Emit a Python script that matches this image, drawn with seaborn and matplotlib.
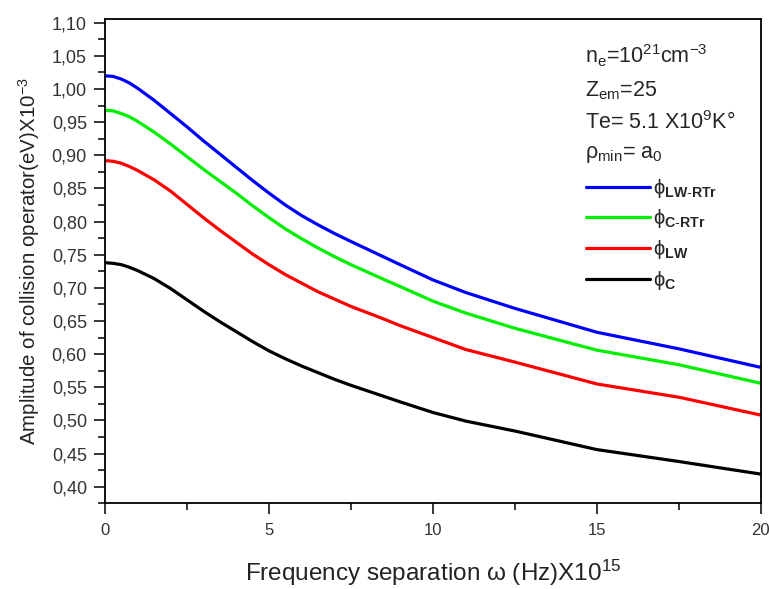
import numpy as np
import pandas as pd
import matplotlib
matplotlib.use('Agg')
import matplotlib.pyplot as plt
import seaborn as sns
from matplotlib.ticker import MultipleLocator, FuncFormatter

# ---- data ----
freq = [0, 0.25, 0.5, 0.75, 1, 1.5, 2, 2.5, 3, 3.5, 4, 4.5, 5, 5.5, 6, 6.5, 7, 7.5,
        8.4, 9, 10, 11, 12.5, 15, 17.5, 20]
phi_lw_rtr = [1.020, 1.019, 1.015, 1.009, 1.001, 0.983, 0.963, 0.943, 0.922, 0.902,
              0.882, 0.862, 0.843, 0.825, 0.809, 0.795, 0.782, 0.770, 0.749, 0.735,
              0.712, 0.693, 0.669, 0.633, 0.608, 0.580]
phi_c_rtr = [0.968, 0.967, 0.963, 0.958, 0.951, 0.935, 0.917, 0.898, 0.879, 0.861,
             0.843, 0.824, 0.806, 0.789, 0.774, 0.760, 0.747, 0.735, 0.715, 0.702,
             0.680, 0.662, 0.639, 0.606, 0.584, 0.556]
phi_lw = [0.892, 0.891, 0.888, 0.883, 0.877, 0.863, 0.846, 0.826, 0.806, 0.787,
          0.769, 0.751, 0.735, 0.720, 0.707, 0.694, 0.683, 0.672, 0.655, 0.643,
          0.625, 0.607, 0.588, 0.555, 0.535, 0.508]
phi_c = [0.738, 0.737, 0.735, 0.731, 0.726, 0.714, 0.699, 0.682, 0.665, 0.649,
         0.634, 0.619, 0.605, 0.593, 0.582, 0.572, 0.562, 0.553, 0.538, 0.528,
         0.512, 0.499, 0.484, 0.456, 0.438, 0.419]

series_names = ['LW-RTr', 'C-RTr', 'LW', 'C']
series_labels = [r'$\mathrm{\phi}_{\mathbf{LW\text{-}RTr}}$',
                 r'$\mathrm{\phi}_{\mathbf{C\text{-}RTr}}$',
                 r'$\mathrm{\phi}_{\mathbf{LW}}$',
                 r'$\mathrm{\phi}_{\mathbf{C}}$']
series_colors = ['#0000ff', '#00ee00', '#ff0000', '#000000']

frames = []
for name, vals in zip(series_names, [phi_lw_rtr, phi_c_rtr, phi_lw, phi_c]):
    frames.append(pd.DataFrame({'freq': freq, 'amp': vals, 'series': name}))
df = pd.concat(frames, ignore_index=True)

sns.set_style('ticks')
plt.rcParams['font.family'] = ['Liberation Sans', 'DejaVu Sans']
plt.rcParams['mathtext.fontset'] = 'custom'
plt.rcParams['mathtext.rm'] = 'Liberation Sans'
plt.rcParams['mathtext.it'] = 'Liberation Sans:italic'
plt.rcParams['mathtext.bf'] = 'Liberation Sans:bold'
plt.rcParams['mathtext.sf'] = 'Liberation Sans'

fig = plt.figure(figsize=(7.69, 5.89), dpi=100)
ax = fig.add_axes([0.1365, 0.1452, 0.853, 0.8218])

sns.lineplot(data=df, x='freq', y='amp', hue='series', hue_order=series_names,
             palette=dict(zip(series_names, series_colors)), sort=False,
             linewidth=2.3, legend=False, ax=ax)

ax.set_xlim(0, 20)
ax.set_ylim(0.3747, 1.105)
ax.xaxis.set_major_locator(MultipleLocator(5))
ax.xaxis.set_minor_locator(MultipleLocator(2.5))
ax.yaxis.set_major_locator(MultipleLocator(0.05))
ax.yaxis.set_minor_locator(MultipleLocator(0.025))
ax.yaxis.set_major_formatter(FuncFormatter(lambda v, p: f'{v:.2f}'.replace('.', ',')))
ax.xaxis.set_major_formatter(FuncFormatter(lambda v, p: f'{v:g}'))

ax.tick_params(which='major', direction='out', length=8, width=1.3,
               labelcolor='#333333', pad=5)
ax.tick_params(axis='y', which='major', labelsize=13)
ax.tick_params(axis='x', which='major', labelsize=12, pad=6)
ax.tick_params(which='minor', direction='out', length=5, width=1.3)
for s in ax.spines.values():
    s.set_visible(True)
    s.set_linewidth(1.3)
    s.set_color('black')

ax.set_ylabel(r'Amplitude of collision operator(eV)X10$^{-3}$', fontsize=14.8,
              color='#222222', labelpad=7)
ax.set_xlabel(r'Frequency separation $\mathrm{\omega}$ (Hz)X10$^{15}$', fontsize=17.5,
              color='#222222', labelpad=14)

tx = 0.732
fs = 15.5
ax.text(tx, 0.925, r'n$_{\mathrm{e}}$=10$^{21}$cm$^{-3}$', transform=ax.transAxes,
        fontsize=fs, va='center', ha='left')
ax.text(tx, 0.852, r'Z$_{\mathrm{em}}$=25', transform=ax.transAxes,
        fontsize=fs, va='center', ha='left')
ax.text(tx, 0.787, r'Te= 5.1 X10$^{9}$K°', transform=ax.transAxes,
        fontsize=fs, va='center', ha='left')
ax.text(tx, 0.722, r'$\mathrm{\rho}_{\mathrm{min}}$= a$_{0}$', transform=ax.transAxes,
        fontsize=fs, va='center', ha='left')

handles = ax.get_lines()[:4]
ax.legend(handles, series_labels, loc='upper left', bbox_to_anchor=(0.733, 0.675),
          frameon=False, fontsize=14.5, handlelength=3.2, handletextpad=0.15,
          labelspacing=0.38, borderpad=0, borderaxespad=0)

fig.savefig('out.png', dpi=100)
